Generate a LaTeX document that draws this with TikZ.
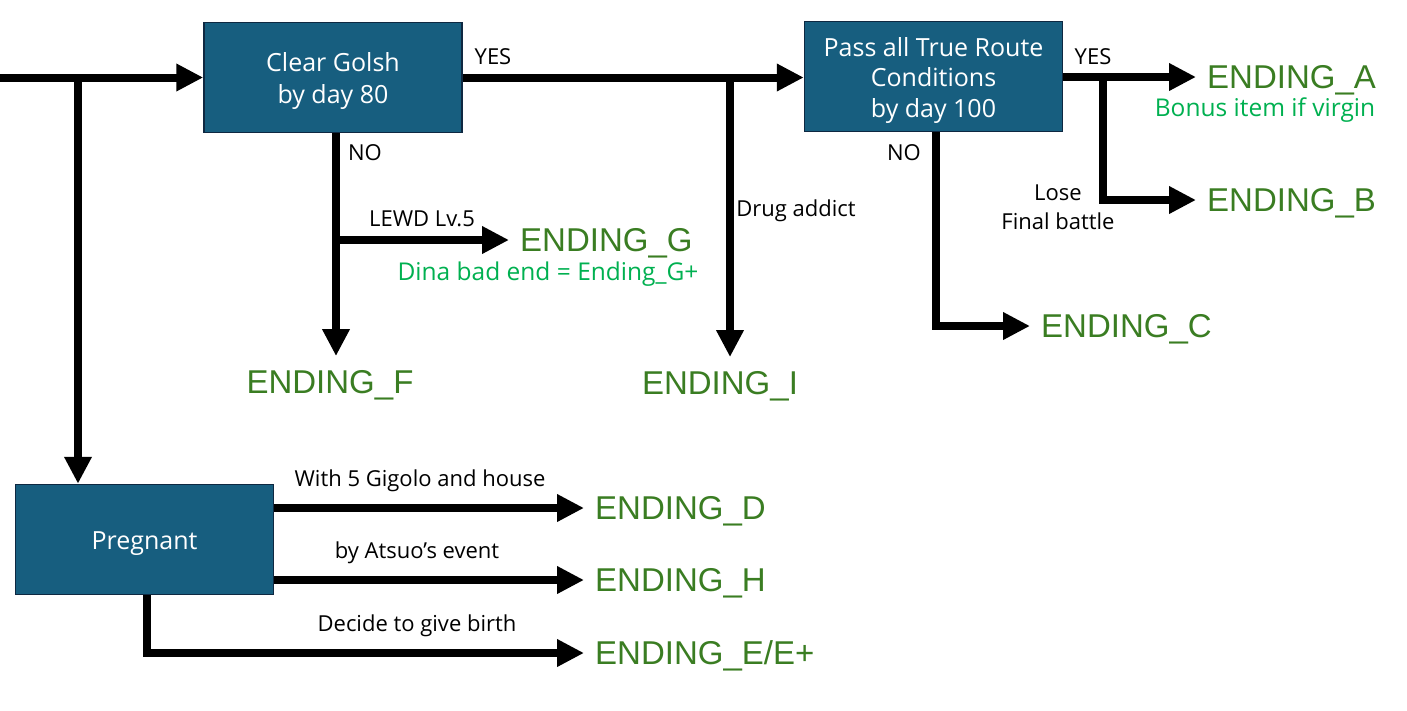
\documentclass[tikz,border=0pt]{standalone}
\usepackage{fontspec}
\setmainfont{Open Sans}
\newfontfamily\endfont{Liberation Sans}
\usetikzlibrary{arrows.meta}
\definecolor{boxfill}{HTML}{175E7F}
\definecolor{boxedge}{HTML}{0E2841}
\definecolor{endgreen}{HTML}{3A7D22}
\definecolor{notegreen}{HTML}{00B050}
\newcommand{\boxstrut}{\rule{0pt}{26pt}}
\begin{document}
\begin{tikzpicture}[x=1pt,y=-1pt,
  decision/.style={draw=boxedge, line width=1.5pt, fill=boxfill, text=white,
    font=\fontsize{25}{32}\selectfont, align=center, minimum width=258pt,
    minimum height=110pt, inner sep=0pt},
  ending/.style={text=endgreen, font=\endfont\fontsize{33}{36}\selectfont,
    inner xsep=11pt, inner ysep=14pt, text height=23.5pt, text depth=0pt},
  lbl/.style={font=\fontsize{22}{29}\selectfont, inner sep=0pt, align=center},
  note/.style={text=notegreen, font=\fontsize{24.5}{28}\selectfont, inner sep=0pt},
  arr/.style={line width=8pt, line join=miter, -{Triangle[length=27pt,width=26pt]}},
]
\useasboundingbox (0,0) rectangle (1407,710);

% decision boxes
\node[decision] (golsh) at (333,77.5) {\boxstrut Clear Golsh\\by day 80};
\node[decision, font=\fontsize{25}{30.5}\selectfont] (pass) at (933.5,76.5) {\boxstrut Pass all True Route\\Conditions\\by day 100};
\node[decision] (preg) at (144.5,539.5) {\boxstrut Pregnant};

% endings
\node[ending, anchor=west] (endA) at (1196,77) {ENDING\_A};
\node[ending, anchor=west] (endB) at (1196,200) {ENDING\_B};
\node[ending, anchor=west] (endC) at (1030,326) {ENDING\_C};
\node[ending, anchor=west] (endG) at (509,240) {ENDING\_G};
\node[ending] (endF) at (330,382) {ENDING\_F};
\node[ending] (endI) at (720,383) {ENDING\_I};
\node[ending, anchor=west] (endD) at (584,508) {ENDING\_D};
\node[ending, anchor=west] (endH) at (584,580) {ENDING\_H};
\node[ending, anchor=west] (endE) at (584,653) {ENDING\_E/E+};

% notes
\node[note] (noteA) at (1265,110) {Bonus item if virgin};
\node[note] (noteG) at (548,274) {Dina bad end = Ending\_G+};

% junctions
\coordinate (start) at (0,77.5);
\coordinate (j1) at (78,77.5);
\coordinate (j2) at (730,77.5);
\coordinate (j3) at (336,240);
\coordinate (j4) at (1103,77);

% connectors
\draw[arr] (start) -- (golsh.west);
\draw[arr] (j1) -- (j1 |- preg.north);
\draw[arr] (golsh.east) -- (golsh.east -| pass.west);
\draw[arr] (j2) -- (j2 |- endI.north);
\draw[arr] ([xshift=3pt]golsh.south) -- ([xshift=3pt]golsh.south |- endF.north);
\draw[arr] (j3) -- (endG.west);
\draw[arr] (pass.east |- endA.west) -- (endA.west);
\draw[arr] (j4) |- (endB.west);
\draw[arr] ([xshift=2.5pt]pass.south) |- (endC.west);
\draw[arr] (preg.east |- endD.west) -- (endD.west);
\draw[arr] (preg.east |- endH.west) -- (endH.west);
\draw[arr] ([xshift=2.5pt]preg.south) |- (endE.west);

% labels
\node[lbl] at (493,57) {YES};
\node[lbl] at (365,153) {NO};
\node[lbl] at (422,219) {LEWD Lv.5};
\node[lbl] at (796,211) {Drug addict};
\node[lbl] at (1093,57) {YES};
\node[lbl] at (904,153) {NO};
\node[lbl] at (1058,207) {Lose\\Final battle};
\node[lbl] at (420,481) {With 5 Gigolo and house};
\node[lbl] at (417,553) {by Atsuo’s event};
\node[lbl] at (417,626) {Decide to give birth};
\end{tikzpicture}
\end{document}
